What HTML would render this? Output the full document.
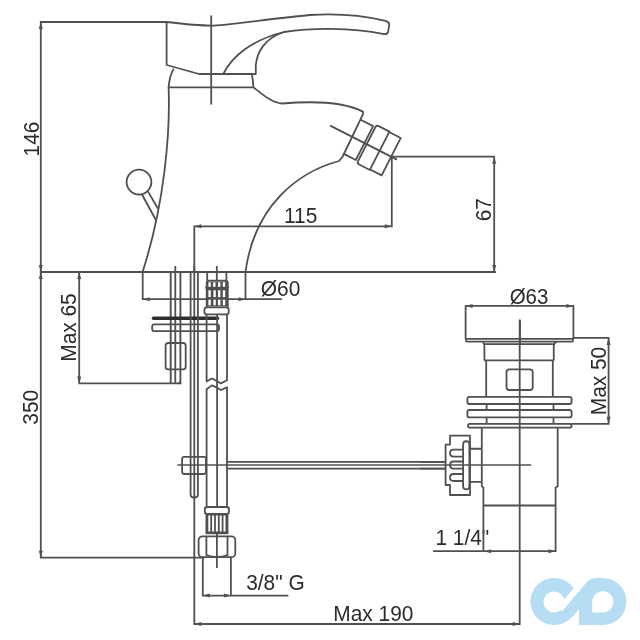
<!DOCTYPE html>
<html><head><meta charset="utf-8">
<style>
html,body{margin:0;padding:0;background:#fff;width:640px;height:640px;overflow:hidden}
svg{display:block;will-change:transform}
text{font-family:"Liberation Sans",sans-serif;fill:#2b2b2b;font-size:22px}
</style></head>
<body>
<svg width="640" height="640" viewBox="0 0 640 640">
<g fill="none" stroke="#505050" stroke-width="1.8" stroke-linejoin="miter" stroke-linecap="square">
<!-- ============ DIMENSIONS ============ -->
<!-- 146 / 350 left vertical -->
<path d="M40.8,22 H167 M40.8,22 V557.7 M40.8,272 H495 M40.8,557.7 H203.5"/>
<!-- Max 65 -->
<path d="M79.2,272 V383.4 H180.6"/>
<!-- 115 -->
<path d="M194.3,226.3 H391.8 M391.8,156.7 V226.3 M194.3,226.3 V497"/>
<!-- 67 -->
<path d="M391.8,156.7 H494.2 V272"/>
<!-- Ø60 -->
<path d="M142.7,272 V299.2 H281 M245.5,272 V299.2"/>
<!-- Max 190 -->
<path d="M194.3,497 V624 H519.7 M519.7,320.5 V624"/>
<!-- Max 50 -->
<path d="M573.6,337.9 H608.6 V423.8 H572"/>
<!-- 1 1/4 -->
<path d="M434,551.2 H555.5"/>
<!-- 3/8 G -->
<path d="M202.8,595.6 H287.5"/>
</g>
<!-- arrowheads -->
<g fill="#505050" stroke="none">
<path d="M40.8,22 l-2,7 h4z M40.8,272 l-2,-7 h4z M40.8,272 l-2,7 h4z M40.8,557.7 l-2,-7 h4z"/>
<path d="M79.2,272 l-2,7 h4z M79.2,383.4 l-2,-7 h4z"/>
<path d="M194.3,226.3 l7,-2 v4z M391.8,226.3 l-7,-2 v4z"/>
<path d="M494.2,156.7 l-2,7 h4z M494.2,272 l-2,-7 h4z"/>
<path d="M142.7,299.2 l7,-2 v4z M245.5,299.2 l-7,-2 v4z"/>
<path d="M194.3,624 l7,-2 v4z M519.7,624 l-7,-2 v4z"/>
<path d="M465.6,305.9 l7,-2 v4z M573.4,305.9 l-7,-2 v4z"/>
<path d="M608.6,337.9 l-2,7 h4z M608.6,423.8 l-2,-7 h4z"/>
<path d="M484.1,551.2 l7,-2 v4z M555.5,551.2 l-7,-2 v4z"/>
<path d="M202.8,595.6 l7,-2 v4z M230.9,595.6 l-7,-2 v4z"/>
</g>

<!-- texts -->
<g class="t">
<text transform="translate(39.2,139) rotate(-90) scale(.95,1)" text-anchor="middle">146</text>
<text transform="translate(37.6,407.2) rotate(-90) scale(.95,1)" text-anchor="middle">350</text>
<text transform="translate(76.1,327.5) rotate(-90) scale(.95,1)" text-anchor="middle">Max 65</text>
<text transform="translate(490.9,209.7) rotate(-90) scale(.95,1)" text-anchor="middle">67</text>
<text transform="translate(605.5,381) rotate(-90) scale(.95,1)" text-anchor="middle">Max 50</text>
<text transform="translate(300.7,222.5) scale(.95,1)" text-anchor="middle">115</text>
<text transform="translate(280.6,295.5) scale(.95,1)" text-anchor="middle">Ø60</text>
<text transform="translate(529,303.5) scale(.93,1)" text-anchor="middle">Ø63</text>
<text transform="translate(462.3,544.8) scale(.95,1)" text-anchor="middle">1 1/4"</text>
<text transform="translate(275.4,590) scale(.95,1)" text-anchor="middle">3/8" G</text>
<text transform="translate(373.4,620.8) scale(.95,1)" text-anchor="middle">Max 190</text>
</g>

<g fill="none" stroke="#505050" stroke-width="1.8" stroke-linejoin="round">
<!-- ============ TAP HANDLE ============ -->
<path d="M166.6,22 V65 L199,74 H255.8 V65 C257,52 265,38 284,32"/>
<path d="M166.6,22 C180,23.6 198,25.6 211,25.6 C226,25.6 275,18 310,15 C340,13 365,16 385.5,20.8 Q389.6,22 389.2,25 L388.2,31.5 Q387.6,34.6 384,34.1 C350,27 310,28 284,32"/>
<path d="M223.3,74 C232,56 252,40 284,32"/>
<path d="M211.2,15.5 V104.5"/>
<!-- ring -->
<path d="M173.7,68.6 Q169.5,76 168.6,87.3 H253.4 Q253,80 251.9,74.5"/>
<!-- body -->
<path d="M168.6,87.3 C170.35,132.2 164.6,203.5 142.6,272"/>
<path d="M253.4,87.3 C262,94 272,103 282,103.5 C300,102 340,100 362.9,111.6 V114.4 L342.7,156.5 L339.1,161 C299.5,171.5 254.4,204.5 245.5,272"/>
<!-- lever -->
<circle cx="139" cy="182.1" r="12.4"/>
<path d="M142,194.5 L156.2,220.5 M148.1,191.6 L158,208.8"/>
<!-- nozzle -->
<g transform="translate(352,136.7) rotate(27)">
<path d="M0,-19 H14 V19 H0"/>
<path d="M16.5,-19 Q16.5,-21.5 19,-21.5 H31 V21.5 H19 Q16.5,21.5 16.5,19 Z"/>
<path d="M31,-21 H44 V21 H31"/>
<path d="M-24.5,0 H50.5"/>
</g>
</g>

<!-- ============ UNDER-TAP ============ -->
<g fill="none" stroke="#505050" stroke-width="1.8" stroke-linejoin="round">
<!-- left stud -->
<path d="M170.7,272 V383.4 M180.4,272 V381 Q180.4,383.4 178,383.4" stroke-width="1.9"/>
<path d="M175.3,266 V383.4"/>
<!-- black bar + washer -->
<path d="M153.5,318.3 H217.5" stroke-width="3.6" stroke-linecap="round" stroke="#2e2e2e"/>
<rect x="152.2" y="324.4" width="66.8" height="6.8" rx="2.2"/>
<!-- nut -->
<rect x="165.6" y="343" width="20.1" height="26.4" rx="2.6"/>
<!-- copper pipe -->
<path d="M190.6,272 V495 Q190.6,497.5 194.2,497.5 Q197.9,497.5 197.9,495 V272"/>
<path d="M194.3,266 V272"/>
<!-- clamp -->
<rect x="182.1" y="456.8" width="23.9" height="17.2" rx="2.2"/>
<path d="M177.3,465 H531.2" stroke-width="1.5"/>
<path d="M227.5,461.9 H445.6 M227.5,468.7 H445.6"/>
<!-- hose top connector -->
<path d="M207.2,272 V280.6 M226.4,272 V280.6 M216.8,266 V280.6"/>
<path d="M206.7,306.9 V283 Q206.7,280.6 209,280.6 H225.5 Q227.8,280.6 227.8,283 V306.9"/>
<path d="M205.3,287.6 H228.3" stroke-width="2.2"/>
<rect x="204.4" y="307.3" width="24.35" height="7.1" rx="2.4"/>
<!-- hose upper -->
<path d="M206.6,314.4 V381.5 L211.8,378.5 L217.1,381.1 L220.8,383.4 L227,380.3 V314.4"/>
<path d="M217.1,314.4 V506.5"/>
<path d="M206.6,506.5 V389.3 L211.8,385.4 L217.1,387.7 L220.8,390 L227,387.3 V506.5"/>
<!-- hose bottom fitting -->
<rect x="204.8" y="507" width="24.2" height="7" rx="2.4"/>
<path d="M206.4,514 V533 M227.5,514 V533"/>
<path d="M205.6,533 H228.3" stroke-width="2.4"/>
<rect x="198.6" y="536.3" width="36.7" height="20.9" rx="4"/>
<path d="M206.4,537 V556 M227.5,537 V556"/>
<path d="M206.4,555 Q217,559 227.5,555" />
<path d="M202.8,557 V595.6 M230.9,557 V595.6"/>
<path d="M216.9,533 V568"/>

</g>
<!-- thread windows dark -->
<g fill="#505050" stroke="none">
<rect x="206.7" y="281.5" width="21.1" height="25"/>
<rect x="206.4" y="514" width="21.1" height="19"/>
</g>
<g fill="#fff" stroke="none">
<rect x="208.4" y="282.3" width="2.4" height="4.5"/>
<rect x="213.1" y="282.3" width="2.4" height="4.5"/>
<rect x="218" y="282.3" width="2.4" height="4.5"/>
<rect x="222.8" y="282.3" width="2.4" height="4.5"/>
<rect x="208.4" y="290.3" width="2.4" height="6.8"/>
<rect x="213.4" y="290.3" width="2.4" height="6.8"/>
<rect x="218" y="290.3" width="2.4" height="6.8"/>
<rect x="222.8" y="290.3" width="2.4" height="6.8"/>
<rect x="208.4" y="299.7" width="2.4" height="5.6"/>
<rect x="213.4" y="299.7" width="2.4" height="5.6"/>
<rect x="218" y="299.7" width="2.4" height="5.6"/>
<rect x="222.8" y="299.7" width="2.4" height="5.6"/>
<rect x="208.3" y="515.5" width="2" height="16"/>
<rect x="212.1" y="515.5" width="2" height="16"/>
<rect x="215.9" y="515.5" width="2" height="16"/>
<rect x="219.7" y="515.5" width="2" height="16"/>
<rect x="223.5" y="515.5" width="2" height="16"/>
</g>

<!-- ============ DRAIN ============ -->
<g fill="none" stroke="#505050" stroke-width="1.8" stroke-linejoin="round">
<path d="M465.6,339 V305.9 H573.4 V339"/>
<rect x="465.8" y="338.9" width="107.4" height="2.8" rx="1.4"/>
<path d="M482.5,342 Q484.4,343 484.4,346 V360.4 M556.6,342 Q553.75,343 553.75,346 V360.4"/>
<path d="M484.4,344.2 H553.75 M484.4,360.4 H553.75"/>
<path d="M486.2,360.4 V396.6 M552.8,360.4 V396.6"/>
<rect x="506.5" y="369.4" width="26.2" height="20.6" rx="2.8"/>
<rect x="467.4" y="396.8" width="104.2" height="7.2" rx="2"/>
<rect x="467.4" y="410" width="104.2" height="7.4" rx="2"/>
<rect x="468" y="423.9" width="103.6" height="3.8" rx="1.9"/>
<path d="M486.6,404 V410 M553.5,404 V410 M486.6,417.4 V423.9 M553.5,417.4 V423.9"/>
<path d="M481.8,427.7 V486.9 M557.7,427.7 V486.9"/>
<path d="M483.4,486.9 V551.2 M555.6,486.9 V551.2 M481.8,486.9 H483.4 M557.7,486.9 H555.6"/>
<path d="M483.4,505.5 H555.6"/>
<path d="M520,320.5 V345"/>
<!-- clip -->
<path d="M450,444.6 V435.6 H470 V495 H450 V485 H445.6 V444.6 Z"/>
<rect x="463.1" y="441.25" width="6.3" height="48.2" rx="3.1"/>
<path d="M464,449.6 H453.8 Q450,449.6 450,453.1 Q450,456.7 453.8,456.7 H464"/>
<path d="M464,461.5 H453.8 Q450,461.5 450,465 Q450,468.6 453.8,468.6 H464"/>
<path d="M464,474 H453.8 Q450,474 450,477.5 Q450,481 453.8,481 H464"/>
<path d="M470,448.75 H481.8 M470,481.9 H481.8"/>
<path d="M420,461.9 H445.6 M420,468.7 H445.6"/>

</g>

<!-- ============ LOGO ============ -->
<g fill="#b6ddf3" stroke="none">
<circle cx="554" cy="601.5" r="23.6"/>
<circle cx="602.8" cy="601.5" r="23.6"/>
<rect x="579" y="601.5" width="23.8" height="23.6"/>
<path d="M563.35,609.85 L587.1,581.6 Q590.9,577 602.8,577.9 V601.5 H585.1 L572.15,617.25 Z"/>
</g>
<g fill="#fff" stroke="none">
<circle cx="554" cy="601.9" r="10.5"/>
<path d="M594.05,563.95 L598.65,567.8 L562,611.5 L557.4,607.6 Z"/>
<circle cx="602.8" cy="601.9" r="10.6"/>
<rect x="592.2" y="601.9" width="10.6" height="10.6"/>
</g>
</svg>
</body></html>
